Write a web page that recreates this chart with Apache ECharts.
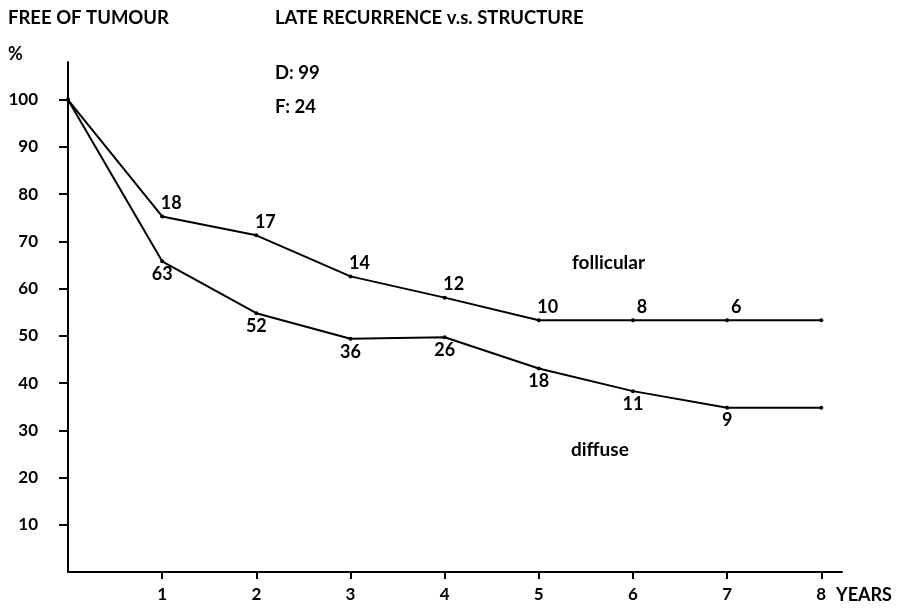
<!DOCTYPE html>
<html><head><meta charset="utf-8">
<script src="https://cdn.jsdelivr.net/npm/echarts@6/dist/echarts.min.js"></script>
<style>html,body{margin:0;padding:0;background:#fff}#c{width:908px;height:608px}</style>
</head><body><div id="c"></div>
<script>
const years = [0, 1, 2, 3, 4, 5, 6, 7, 8];
const follicular = [100, 75.3, 71.3, 62.6, 58.1, 53.3, 53.3, 53.3, 53.3];
const diffuse = [100, 65.8, 54.8, 49.4, 49.7, 43.1, 38.3, 34.8, 34.8];
const follicularN = ['', '18', '17', '14', '12', '10', '8', '6', ''];
const diffuseN = ['', '63', '52', '36', '26', '18', '11', '9', ''];
const xTicks = [1, 2, 3, 4, 5, 6, 7, 8];
const yTicks = [10, 20, 30, 40, 50, 60, 70, 80, 90, 100];

const FONT = 'Lato';
const chart = echarts.init(document.getElementById('c'));
function mk(vals, labels, pos, off) {
  return years.map((x, i) => ({
    value: [x, vals[i]],
    label: { show: labels[i] !== '', formatter: labels[i], position: pos, offset: off }
  }));
}
const lineStyle = { color: '#000', width: 2 };
chart.setOption({
  animation: false,
  grid: { left: 68, right: 66, top: 62, bottom: 36 },
  xAxis: {
    type: 'value', min: 0, max: 8.22, interval: 1,
    axisLine: { lineStyle: { color: '#000', width: 2 } },
    axisTick: { show: true, length: 7, inside: false, customValues: xTicks, lineStyle: { color: '#000', width: 2 } },
    axisLabel: { customValues: xTicks, margin: 14, color: '#000', fontFamily: FONT, fontWeight: 'bold', fontSize: 17 },
    splitLine: { show: false }
  },
  yAxis: {
    type: 'value', min: 0, max: 108, interval: 10,
    axisLine: { show: true, lineStyle: { color: '#000', width: 2 } },
    axisTick: { show: true, length: 9, customValues: yTicks, lineStyle: { color: '#000', width: 2 } },
    axisLabel: { customValues: yTicks, margin: 30, color: '#000', fontFamily: FONT, fontWeight: 'bold', fontSize: 17 },
    splitLine: { show: false }
  },
  series: [
    { type: 'line', name: 'follicular', data: mk(follicular, follicularN, 'top', [9, 2]),
      symbol: 'circle', symbolSize: 4, itemStyle: { color: '#000' }, lineStyle,
      label: { color: '#000', fontFamily: FONT, fontWeight: 'bold', fontSize: 18, distance: 4 } },
    { type: 'line', name: 'diffuse', data: mk(diffuse, diffuseN, 'bottom', [0, 0]),
      symbol: 'circle', symbolSize: 4, itemStyle: { color: '#000' }, lineStyle,
      label: { color: '#000', fontFamily: FONT, fontWeight: 'bold', fontSize: 18, distance: 2 } }
  ],
  graphic: [
    { type: 'text', left: 8, top: 9, style: { text: 'FREE OF TUMOUR', font: 'bold 18.5px ' + FONT, fill: '#000' } },
    { type: 'text', left: 275, top: 9, style: { text: 'LATE RECURRENCE v.s. STRUCTURE', font: 'bold 18.5px ' + FONT, fill: '#000' } },
    { type: 'text', left: 8, top: 45, style: { text: '%', font: 'bold 18px ' + FONT, fill: '#000' } },
    { type: 'text', left: 275, top: 64, style: { text: 'D: 99', font: 'bold 18.5px ' + FONT, fill: '#000' } },
    { type: 'text', left: 275, top: 98, style: { text: 'F: 24', font: 'bold 18.5px ' + FONT, fill: '#000' } },
    { type: 'text', left: 572, top: 253, style: { text: 'follicular', font: 'bold 19px ' + FONT, fill: '#000' } },
    { type: 'text', left: 571, top: 440, style: { text: 'diffuse', font: 'bold 19px ' + FONT, fill: '#000' } },
    { type: 'text', left: 836, top: 586, style: { text: 'YEARS', font: 'bold 18px ' + FONT, fill: '#000' } }
  ]
});
</script></body></html>
